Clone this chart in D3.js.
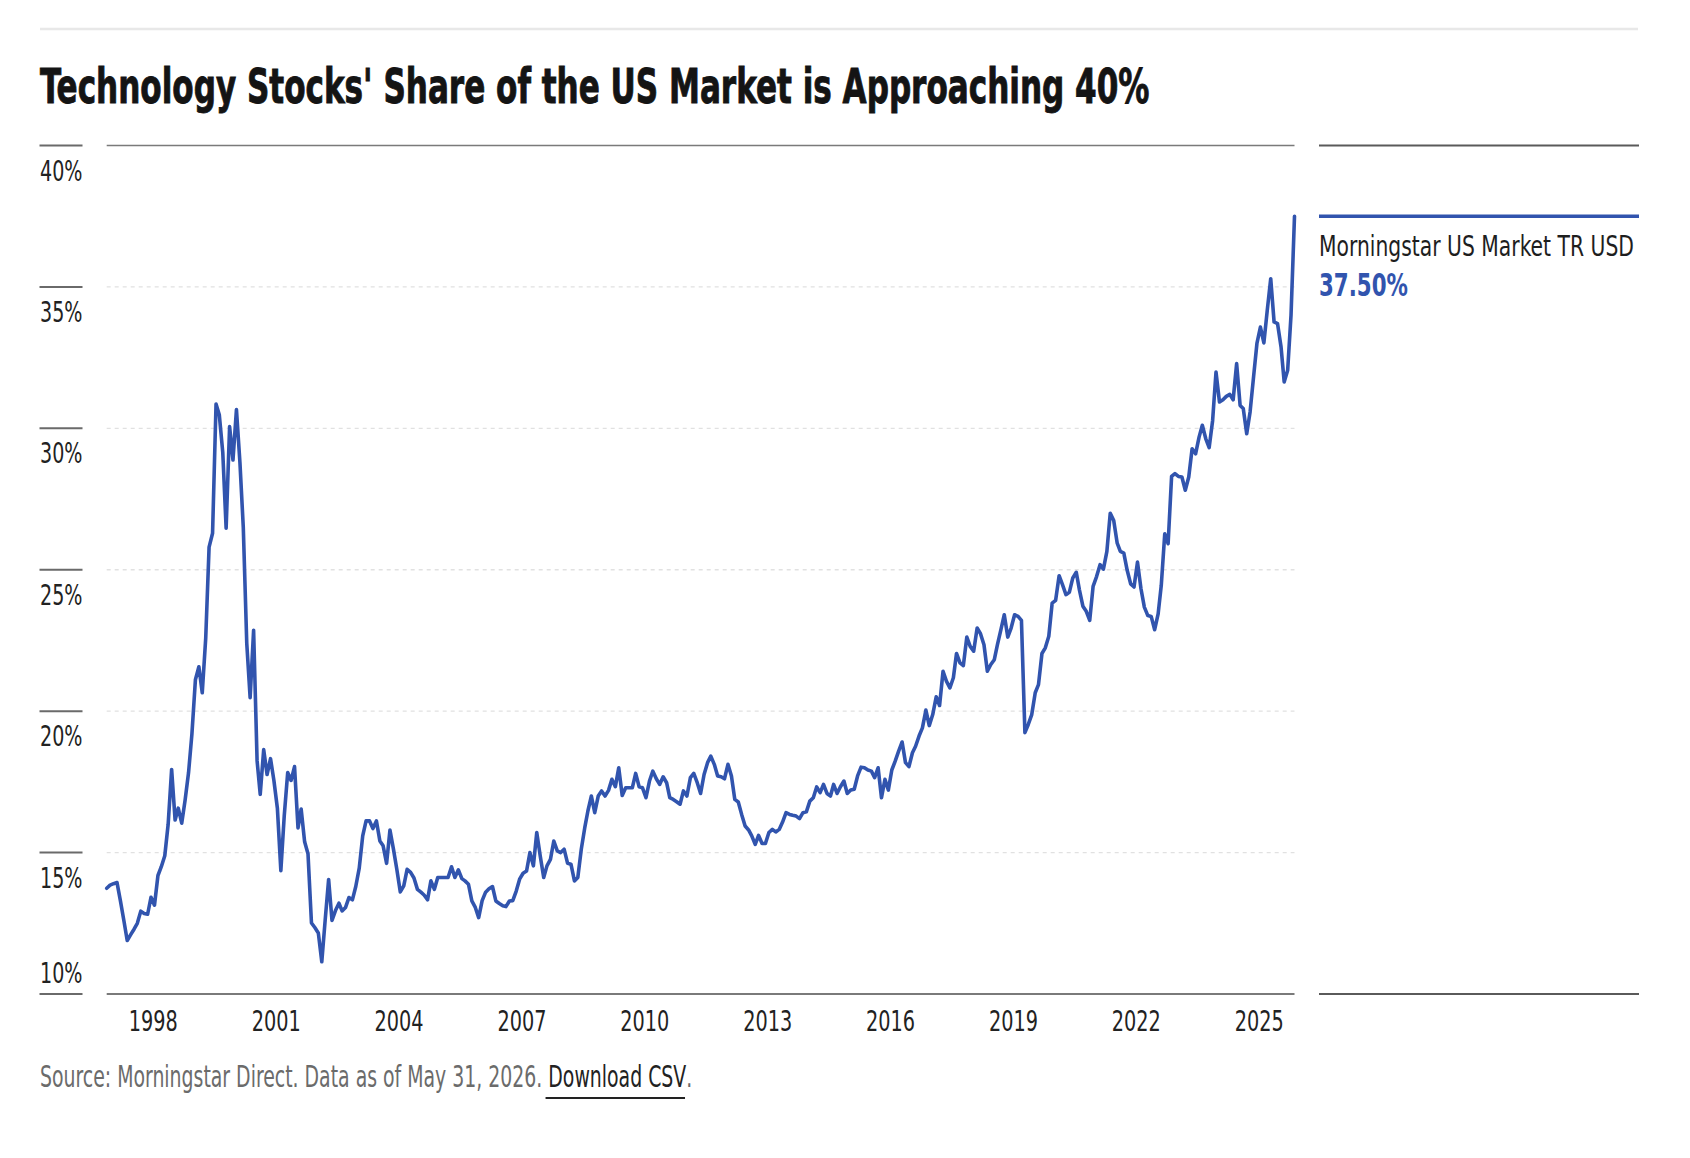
<!DOCTYPE html>
<html>
<head>
    <meta charset="utf-8">
    <title>Technology Stocks' Share of the US Market</title>
    <script src="https://d3js.org/d3.v7.min.js"></script>
    <style>
        body { margin: 0; background: #fff; }
        text { font-family: "Liberation Sans Narrow", "DejaVu Sans Condensed", "Liberation Sans", sans-serif; }
    </style>
</head>
<body>
<div id="chart"></div>
<script>
    // Tech share of Morningstar US Market (%), month-end values, May 1997 - May 2026
    var share1997to2002 = [
        13.74, 13.85, 13.9, 13.94, 13.3, 12.6, 11.89, 12.1,
        12.3, 12.5, 12.93, 12.85, 12.82, 13.42, 13.14, 14.19, 14.5, 14.89, 16.0, 17.94,
        16.15, 16.57, 16.04, 16.85, 17.83, 19.2, 21.11, 21.57, 20.65, 22.58, 25.8, 26.29,
        30.86, 30.48, 29.15, 26.47, 30.06, 28.88, 30.66, 28.8, 26.5, 22.4, 20.48, 22.86,
        18.25, 17.06, 18.64, 17.76, 18.32, 17.55, 16.57, 14.36, 16.29, 17.83, 17.55, 18.04,
        15.87, 16.54, 15.38, 14.96, 12.51, 12.35, 12.16, 11.14, 12.6, 14.05, 12.6, 12.95
    ];
    var share2003to2008 = [
        13.21, 12.94, 13.06, 13.41, 13.33, 13.8, 14.45, 15.59, 16.12, 16.12, 15.85, 16.12,
        15.41, 15.24, 14.62, 15.8, 15.12, 14.41, 13.61, 13.82, 14.41, 14.3, 14.1, 13.7,
        13.6, 13.5, 13.33, 14.0, 13.7, 14.12, 14.12, 14.12, 14.12, 14.5, 14.12, 14.39,
        14.08, 14.0, 13.88, 13.29, 13.06, 12.7, 13.3, 13.6, 13.72, 13.8, 13.29, 13.2,
        13.12, 13.09, 13.29, 13.3, 13.64, 14.06, 14.27, 14.35, 15.0, 14.53, 15.71, 14.88,
        14.12, 14.53, 14.76, 15.41, 15.06, 15.0, 15.12, 14.62, 14.59, 14.0, 14.12, 15.12
    ];
    var share2009to2014 = [
        15.88, 16.47, 17.0, 16.41, 17.0, 17.18, 17.0, 17.2, 17.59, 17.33, 18.0, 17.02,
        17.29, 17.29, 17.29, 17.8, 17.33, 17.29, 16.94, 17.53, 17.88, 17.61, 17.41, 17.68,
        17.47, 16.94, 16.88, 16.8, 16.71, 17.18, 17.0, 17.65, 17.8, 17.47, 17.09, 17.76,
        18.18, 18.41, 18.12, 17.71, 17.68, 17.61, 18.12, 17.71, 16.88, 16.79, 16.35, 15.94,
        15.8, 15.59, 15.29, 15.61, 15.32, 15.32, 15.71, 15.82, 15.73, 15.82, 16.08, 16.41,
        16.35, 16.32, 16.29, 16.2, 16.41, 16.44, 16.82, 16.94, 17.32, 17.12, 17.41, 17.09
    ];
    var share2015to2020 = [
        17.0, 17.41, 17.09, 17.33, 17.53, 17.09, 17.21, 17.24, 17.71, 18.02, 18.0, 17.92,
        17.88, 17.65, 18.0, 16.94, 17.59, 17.21, 17.92, 18.24, 18.59, 18.91, 18.18, 18.04,
        18.53, 18.76, 19.12, 19.41, 20.04, 19.49, 19.88, 20.51, 20.2, 21.41, 21.06, 20.82,
        21.18, 22.04, 21.71, 21.61, 22.62, 22.29, 22.12, 22.94, 22.74, 22.35, 21.41, 21.65,
        21.82, 22.35, 22.88, 23.41, 22.62, 22.94, 23.41, 23.35, 23.21, 19.24, 19.53, 19.88,
        20.65, 20.94, 22.04, 22.24, 22.65, 23.82, 23.92, 24.79, 24.47, 24.12, 24.2, 24.71
    ];
    var share2021to2026 = [
        24.91, 24.29, 23.71, 23.53, 23.21, 24.41, 24.76, 25.18, 25.02, 25.65, 27.0, 26.74,
        25.94, 25.65, 25.59, 24.98, 24.5, 24.39, 25.27, 24.33, 23.68, 23.38, 23.35, 22.88,
        23.44, 24.45, 26.27, 25.92, 28.3, 28.4, 28.3, 28.28, 27.81, 28.28, 29.28, 29.1,
        29.69, 30.11, 29.63, 29.32, 30.28, 31.99, 30.93, 31.01, 31.13, 31.2, 31.01, 32.29,
        30.81, 30.7, 29.81, 30.58, 31.82, 33.0, 33.58, 33.02, 34.17, 35.29, 33.76, 33.7,
        32.88, 31.64, 32.05, 34.0, 37.5
    ];
    var yTicks = [10, 15, 20, 25, 30, 35, 40];
    var xTickYears = [1998, 2001, 2004, 2007, 2010, 2013, 2016, 2019, 2022, 2025];
    var seriesName = "Morningstar US Market TR USD";

    var values = share1997to2002.concat(share2003to2008, share2009to2014, share2015to2020, share2021to2026);
    // month-end dates starting 31 May 1997
    var data = values.map(function(v, i) {
        return { date: new Date(1997, 5 + i, 0), value: v };
    });

    var blue = "#3154ae";
    var W = 1690, H = 1158;

    var svg = d3.select("#chart")
      .append("svg")
        .attr("width", W)
        .attr("height", H);

    svg.append("rect").attr("width", W).attr("height", H).attr("fill", "#fff");

    // put a text in a group and squeeze it horizontally to a given width
    function addText(parent, px, py, width, str) {
        var g = parent.append("g").attr("transform", "translate(" + px + "," + py + ")");
        var t = g.append("text").attr("x", 0).attr("y", 0).text(str);
        t.squeeze = function() {
            var w = t.node().getComputedTextLength();
            g.attr("transform", "translate(" + px + "," + py + ") scale(" + (width / w) + ",1)");
            return t;
        };
        return t;
    }

    var x = d3.scaleTime()
        .domain([data[0].date, data[data.length - 1].date])
        .range([106.7, 1294.5]);
    var y = d3.scaleLinear()
        .domain([10, 40])
        .range([994, 145.5]);

    // top rule
    svg.append("line")
        .attr("x1", 40).attr("x2", 1638)
        .attr("y1", 29).attr("y2", 29)
        .attr("stroke", "#e8e8e8").attr("stroke-width", 2.5);

    // title
    addText(svg, 40, 102.5, 1110, "Technology Stocks' Share of the US Market is Approaching 40%")
        .style("font-size", "48px")
        .style("font-weight", "bold")
        .attr("fill", "#141414")
        .attr("stroke", "#141414")
        .attr("stroke-width", 0.9)
        .squeeze();

    // gridlines
    svg.selectAll(".grid")
        .data(yTicks)
        .enter().append("line")
        .attr("x1", 106.7).attr("x2", 1294.5)
        .attr("y1", function(d) { return y(d); })
        .attr("y2", function(d) { return y(d); })
        .attr("stroke", function(d) { return (d === 40 || d === 10) ? "#7a7a7a" : "#e1e1e1"; })
        .attr("stroke-width", function(d) { return d === 10 ? 2.2 : 1.4; })
        .attr("stroke-dasharray", function(d) { return (d === 10 || d === 40) ? null : "4,4"; });

    // y tick marks + labels
    svg.selectAll(".ytick")
        .data(yTicks)
        .enter().append("line")
        .attr("x1", 39.5).attr("x2", 82.5)
        .attr("y1", function(d) { return y(d); })
        .attr("y2", function(d) { return y(d); })
        .attr("stroke", "#6a6a6a").attr("stroke-width", 2);

    yTicks.forEach(function(d) {
        var ty = d === 10 ? y(d) - 11.5 : y(d) + 35;
        addText(svg, 40, ty, 42.5, d + "%")
            .style("font-size", "29px")
            .attr("fill", "#222")
            .squeeze();
    });

    // x axis labels
    var xAxis = d3.axisBottom(x)
        .tickValues(xTickYears.map(function(yr) { return new Date(yr, 0, 1); }))
        .tickSize(0)
        .tickPadding(0)
        .tickFormat(d3.timeFormat("%Y"));
    var gx = svg.append("g")
        .attr("transform", "translate(0,1031)")
        .call(xAxis);
    gx.select(".domain").remove();
    var xLabels = gx.selectAll("text")
        .attr("dy", 0)
        .attr("y", 0)
        .style("font-size", "29px")
        .style("font-family", null)
        .attr("fill", "#222")
        .attr("text-anchor", "start");
    var kX = 49 / xLabels.node().getComputedTextLength();
    gx.selectAll(".tick")
        .attr("transform", function(d) { return "translate(" + (x(d) - 2) + ",0) scale(" + kX + ",1)"; });

    // the series line
    var line = d3.line()
        .x(function(d) { return x(d.date); })
        .y(function(d) { return y(d.value); });
    svg.append("path")
        .datum(data)
        .attr("d", line)
        .attr("fill", "none")
        .attr("stroke", blue)
        .attr("stroke-width", 3.6)
        .attr("stroke-linejoin", "round")
        .attr("stroke-linecap", "round");

    // legend panel on the right
    var last = data[data.length - 1];
    svg.append("line")
        .attr("x1", 1319).attr("x2", 1639)
        .attr("y1", y(40)).attr("y2", y(40))
        .attr("stroke", "#5a5a5a").attr("stroke-width", 2);
    svg.append("line")
        .attr("x1", 1319).attr("x2", 1639)
        .attr("y1", y(10)).attr("y2", y(10))
        .attr("stroke", "#5a5a5a").attr("stroke-width", 2);
    svg.append("line")
        .attr("x1", 1319).attr("x2", 1639)
        .attr("y1", y(last.value)).attr("y2", y(last.value))
        .attr("stroke", blue).attr("stroke-width", 3.6);
    addText(svg, 1319, 256, 315, seriesName)
        .style("font-size", "28px")
        .attr("fill", "#1e1e1e")
        .squeeze();
    addText(svg, 1319, 296, 89, d3.format(".2f")(last.value) + "%")
        .style("font-size", "32px")
        .style("font-weight", "bold")
        .attr("fill", blue)
        .squeeze();

    // source note
    var src = addText(svg, 40, 1087, 650, "")
        .style("font-size", "30px");
    src.append("tspan").attr("fill", "#6b6b6b").text("Source: Morningstar Direct. Data as of May 31, 2026. ");
    src.append("tspan").attr("fill", "#222").text("Download CSV");
    src.append("tspan").attr("fill", "#6b6b6b").text(".");
    src.squeeze();
    // underline under "Download CSV"
    var full = src.text();
    var i0 = full.indexOf("Download"), i1 = full.indexOf("CSV") + 2;
    var srcNode = src.node();
    var k = 650 / srcNode.getComputedTextLength();
    var ux0 = 40 + srcNode.getStartPositionOfChar(i0).x * k;
    var ux1 = 40 + srcNode.getEndPositionOfChar(i1).x * k;
    svg.append("line")
        .attr("x1", ux0 - 1).attr("x2", ux1 + 1)
        .attr("y1", 1098).attr("y2", 1098)
        .attr("stroke", "#222").attr("stroke-width", 2);
</script>
</body>
</html>
